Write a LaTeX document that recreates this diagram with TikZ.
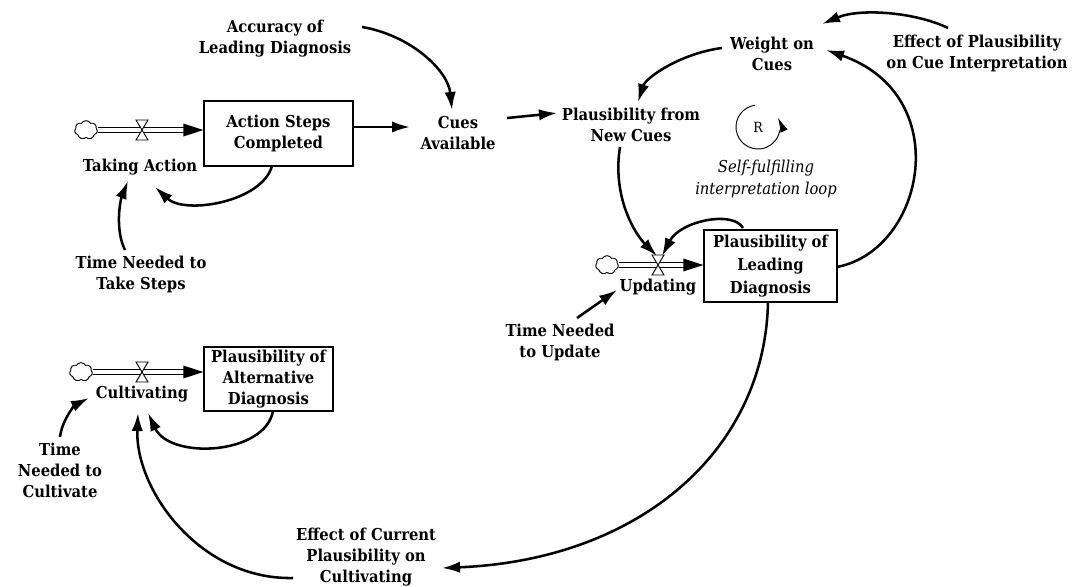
\documentclass[tikz,border=0pt]{standalone}
\usepackage{fontspec}
\newfontfamily\labfont{DejaVu Serif Condensed}
\usetikzlibrary{arrows.meta,calc,shapes.symbols}
\begin{document}
\begin{tikzpicture}[x=0.75pt,y=-0.75pt,
  lbl/.style={font={\labfont\bfseries\fontsize{12.3pt}{15.75pt}\selectfont}, align=center, inner sep=1pt},
  ital/.style={font={\labfont\itshape\fontsize{12.3pt}{16pt}\selectfont}, align=center, inner sep=1pt},
  stock/.style={lbl, draw, line width=1pt, inner sep=0pt},
  link/.style={line width=1.9pt, -{Latex[length=13.5pt,width=8.5pt]}},
  pipeline/.style={line width=0.7pt},
  valvemark/.style={fill=white, draw, line width=0.7pt},
  puff/.style={cloud, draw, line width=0.7pt, cloud puffs=7, cloud puff arc=120, aspect=1.25, minimum width=17pt, minimum height=14pt, inner sep=0pt},
]
\useasboundingbox (0,0) rectangle (1078,586);

% ---- stocks
\node[stock, minimum width=111.75pt, minimum height=48.75pt] (asc) at (278.5,133.5) {Action Steps\\Completed};
\node[stock, minimum width=99.75pt, minimum height=54pt, font={\labfont\bfseries\fontsize{12.3pt}{17pt}\selectfont}] (pld) at (770.5,266) {Plausibility of\\Leading\\Diagnosis};
\node[stock, minimum width=96.75pt, minimum height=48pt] (pad) at (268.5,379) {Plausibility of\\Alternative\\Diagnosis};

% ---- clouds and valves
\node[puff] (c1) at (86,130) {};
\node[puff] (c2) at (607,265) {};
\node[puff] (c3) at (81,372) {};
\coordinate (v1) at (142,130);
\coordinate (v2) at (658,265);
\coordinate (v3) at (142,372);

% ---- labels
\node[lbl] (acc) at (275,39) {Accuracy of\\Leading Diagnosis};
\node[lbl] (take) at (140,167) {Taking Action};
\node[lbl] (tnts) at (141,274) {Time Needed to\\Take Steps};
\node[lbl] (cues) at (458,133) {Cues\\Available};
\node[lbl] (pfnc) at (631,125) {Plausibility from\\New Cues};
\node[lbl] (woc) at (772,54) {Weight on\\Cues};
\node[lbl] (eop) at (977,53) {Effect of Plausibility\\on Cue Interpretation};
\node[lbl] (upd) at (658,287) {Updating};
\node[lbl] (tntu) at (560,342) {Time Needed\\to Update};
\node[lbl] (eocp) at (366,557) {Effect of Current\\Plausibility on\\Cultivating};
\node[lbl] (cult) at (142,394) {Cultivating};
\node[lbl] (tntc) at (60,470) {Time\\Needed to\\Cultivate};
\node[ital] (loop) at (766,179) {Self-fulfilling\\interpretation loop};
\node[font={\labfont\fontsize{10.5pt}{12pt}\selectfont}, inner sep=0pt] (r) at (758,127) {R};
\draw[line width=0.7pt, -{Latex[length=11pt,width=6pt]}] ($(r.center)+(262:22)$) arc[start angle=262, end angle=-25, radius=22];

% ---- flow pipes (double lines with filled heads)
\foreach \c/\v/\s in {c1/v1/asc, c2/v2/pld, c3/v3/pad}{
  \draw[pipeline] ($(\c.east |- \v)+(0,-2.2)$) -- ($(\s.west |- \v)+(-18,-2.2)$);
  \draw[pipeline] ($(\c.east |- \v)+(0,2.2)$) -- ($(\s.west |- \v)+(-18,2.2)$);
  \fill (\s.west |- \v) -- ++(-20,-6.5) -- ++(0,13) -- cycle;
  \draw[valvemark] ($(\v)+(-6,-10)$) -- ($(\v)+(6,-10)$) -- ($(\v)+(-6,10)$) -- ($(\v)+(6,10)$) -- cycle;
}

% ---- causal links
\draw[link] ($(acc.center)+(87,-12)$) .. controls +(48,8) and +(-4,-40) .. ($(cues.center)+(-6,-23)$);
\draw[link] ($(asc.center)+(74.5,-6.5)$) -- ($(cues.center)+(-48,-6)$);
\draw[link] ($(cues.center)+(49,-15)$) -- ($(pfnc.center)+(-74,-12)$);
\draw[link] ($(woc.center)+(-50,-6)$) .. controls +(-40,5) and +(8,-25) .. ($(pfnc.center)+(7,-23)$);
\draw[link] ($(eop.center)+(-29,-25)$) .. controls +(-33,-16) and +(38,-16) .. ($(woc.center)+(50,-30)$);
\draw[link] ($(pld.center)+(66.5,1)$) .. controls +(88,-17) and +(130,45) .. ($(woc.center)+(54,-4)$);
\draw[link] ($(pfnc.center)+(-11,22)$) .. controls +(-8,50) and +(-22,-22) .. ($(v2)+(-1,-9)$);
\draw[link] ($(pld.center)+(-27.5,-38)$) .. controls +(-10,-18) and +(18,-35) .. ($(v2)+(4,-9)$);
\draw[link] ($(tntu.center)+(17,-24)$) -- ($(upd.center)+(-41,3)$);
\draw[link] ($(pld.center)+(-2.5,36)$) .. controls +(-3,148) and +(198,-8) .. ($(eocp.center)+(76,11)$);
\draw[link] ($(eocp.center)+(-73,21)$) .. controls +(-93,2) and +(-3,77) .. ($(cult.center)+(-4,19)$);
\draw[link] ($(pad.center)+(4.5,32)$) .. controls +(-8,44) and +(22,47) .. ($(cult.center)+(6,19)$);
\draw[link] ($(tntc.center)+(0,-33)$) .. controls +(2,-17) and +(-14,7) .. ($(cult.center)+(-53,4)$);
\draw[link] ($(asc.center)+(-6.5,32.5)$) .. controls +(-10,36) and +(30,28) .. ($(take.center)+(15,20)$);
\draw[link] ($(tnts.center)+(-16,-24)$) .. controls +(-10,-20) and +(-8,20) .. ($(take.center)+(-12,14)$);
\end{tikzpicture}
\end{document}
